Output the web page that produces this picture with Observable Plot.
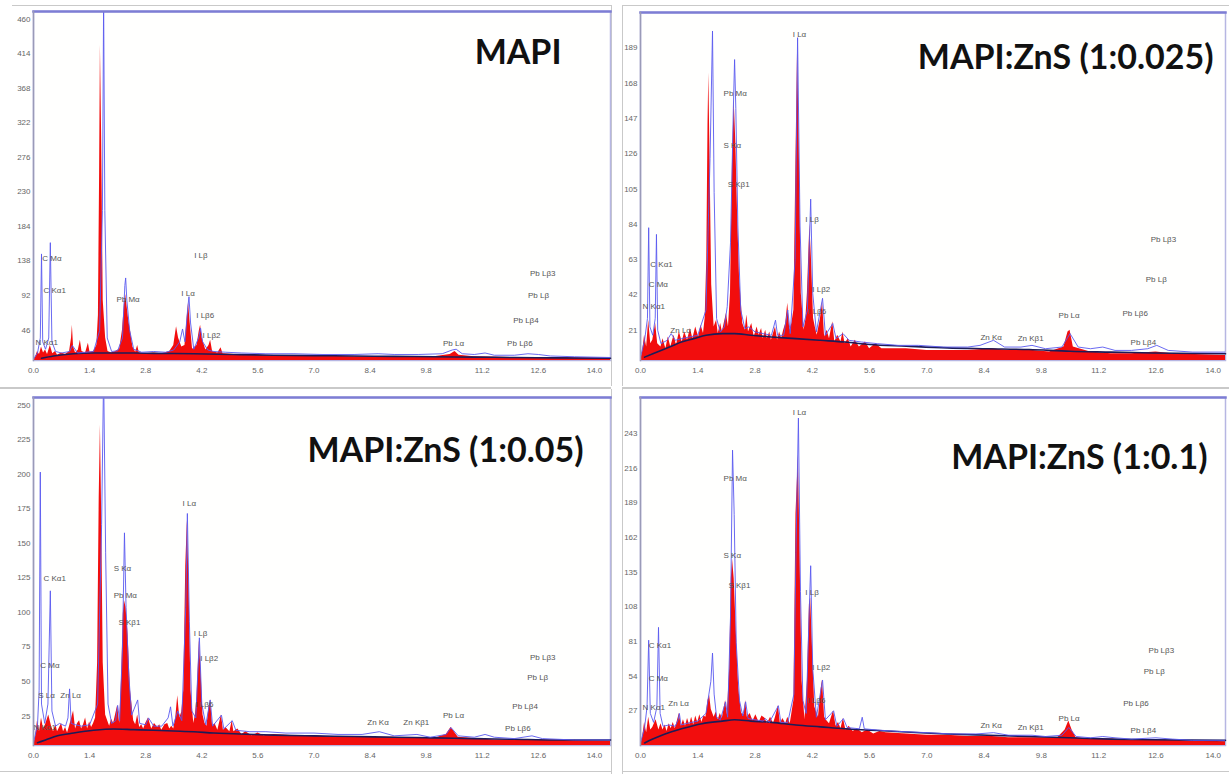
<!DOCTYPE html>
<html>
<head>
<meta charset="utf-8">
<script src="https://cdn.jsdelivr.net/npm/d3@7"></script>
<script src="https://cdn.jsdelivr.net/npm/@observablehq/plot@0.6"></script>
<style>
  html, body { margin: 0; padding: 0; background: #fff; }
  #wrap { position: relative; width: 1229px; height: 774px; overflow: hidden; background: #fff; }
  .pan { position: absolute; }
  .sep { position: absolute; background: #c9c9c9; }
</style>
</head>
<body>
<div id="wrap">
  <div class="sep" style="left:12px;top:5px;width:599px;height:1px"></div>
  <div class="sep" style="left:622px;top:5px;width:607px;height:1px"></div>
  <div class="sep" style="left:611px;top:5px;width:1px;height:381px"></div>
  <div class="sep" style="left:622px;top:5px;width:1px;height:381px"></div>
  <div class="sep" style="left:0px;top:387px;width:611px;height:2px"></div>
  <div class="sep" style="left:622px;top:387px;width:607px;height:2px"></div>
  <div class="sep" style="left:611px;top:389px;width:1px;height:385px"></div>
  <div class="sep" style="left:622px;top:389px;width:1px;height:385px"></div>
  <div class="sep" style="left:0px;top:771px;width:611px;height:1px"></div>
  <div class="sep" style="left:622px;top:771px;width:607px;height:1px"></div>
  <div id="p1" class="pan" style="left:0px;top:0px"></div>
  <div id="p2" class="pan" style="left:620px;top:0px"></div>
  <div id="p3" class="pan" style="left:0px;top:388px"></div>
  <div id="p4" class="pan" style="left:620px;top:388px"></div>
</div>
<script>
// ---------- shared axis ticks (keV) ----------
const xTicks = [0, 1.4, 2.8, 4.2, 5.6, 7.0, 8.4, 9.8, 11.2, 12.6, 14.0];

// ---------- titles ----------
const titles = ["MAPI", "MAPI:ZnS (1:0.025)", "MAPI:ZnS (1:0.05)", "MAPI:ZnS (1:0.1)"];

// ---------- y ticks (counts) ----------
const yTicksMapi = [46, 92, 138, 184, 230, 276, 322, 368, 414, 460];
const yTicks025 = [21, 42, 63, 84, 105, 126, 147, 168, 189];
const yTicks05 = [25, 50, 75, 100, 125, 150, 175, 200, 225, 250];
const yTicks01 = [27, 54, 81, 108, 135, 162, 189, 216, 243];

// ---------- MAPI spectrum [keV, counts] ----------
const mapiRed = [[0,0],[0.05,4],[0.1,12],[0.15,8],[0.2,18],[0.25,10],[0.3,14],[0.35,8],[0.42,20],[0.48,9],[0.55,12],[0.6,7],[0.7,10],[0.8,8],[0.9,12],[0.95,30],[0.97,47],[1.0,18],[1.05,10],[1.12,14],[1.17,27],[1.21,12],[1.3,10],[1.37,23],[1.41,11],[1.5,12],[1.58,20],[1.62,60],[1.65,250],[1.67,420],[1.7,300],[1.74,80],[1.8,30],[1.86,12],[1.95,10],[2.05,12],[2.15,15],[2.22,40],[2.27,75],[2.3,88],[2.34,70],[2.38,52],[2.42,40],[2.48,18],[2.55,11],[2.6,20],[2.64,10],[2.8,9],[3.0,10],[3.2,9],[3.4,12],[3.5,20],[3.57,45],[3.62,30],[3.7,18],[3.78,20],[3.84,60],[3.87,77],[3.91,50],[3.97,15],[4.08,20],[4.14,40],[4.17,47],[4.21,30],[4.3,14],[4.38,20],[4.42,27],[4.47,12],[4.6,10],[4.68,17],[4.73,9],[5.0,8],[5.5,7],[6,6],[7,6],[8,5],[9,5],[10,5],[10.4,8],[10.52,12],[10.62,7],[11,5],[12,4],[13,4],[14.4,3]];
const mapiBlue = [[0,2],[0.1,10],[0.17,30],[0.2,142],[0.23,25],[0.3,15],[0.38,30],[0.42,157],[0.46,25],[0.55,12],[0.7,10],[0.9,12],[0.97,20],[1.1,10],[1.3,11],[1.5,12],[1.65,40],[1.72,200],[1.75,480],[1.78,200],[1.84,30],[1.95,12],[2.1,13],[2.22,30],[2.28,100],[2.3,110],[2.33,80],[2.4,40],[2.5,15],[2.7,11],[3.0,12],[3.3,11],[3.5,14],[3.65,25],[3.72,42],[3.78,25],[3.85,70],[3.88,85],[3.92,50],[4.0,15],[4.12,30],[4.17,43],[4.22,25],[4.35,14],[4.5,12],[4.8,11],[5.2,10],[5.8,9],[6.5,9],[7.2,8],[8,8],[8.6,9],[9,8],[9.6,8],[10.2,9],[10.45,14],[10.55,15],[10.7,9],[11.0,8],[11.27,10],[11.5,7],[12.0,7],[12.34,9],[12.6,8],[12.9,6],[13.5,5],[14.4,4]];
const mapiBg = [[0.2,3],[0.5,6],[1,9],[1.5,10],[2,10],[2.5,10],[3,9.5],[4,9],[5,8],[6,7],[7,6.5],[8,6],[9,5.5],[10,5],[11,4.5],[12,4],[13,3.5],[14.4,3]];
const mapiLabels = [["C Mα",0.22,136],["C Kα1",0.25,93],["N Kα1",0.05,24],["Pb Mα",2.07,81],["I Lβ",4.01,140],["I Lα",3.69,89],["I Lβ6",4.06,60],["I Lβ2",4.22,33],["Pb Lα",10.22,23],["Pb Lβ3",12.39,116],["Pb Lβ",12.34,87],["Pb Lβ4",11.97,53],["Pb Lβ6",11.82,23]];

// ---------- MAPI:ZnS (1:0.025) ----------
const z025Red = [[0,0],[0.05,5],[0.1,15],[0.15,8],[0.2,24],[0.25,10],[0.3,12],[0.37,22],[0.42,10],[0.5,8],[0.55,13],[0.62,7],[0.68,14],[0.74,8],[0.82,15],[0.88,9],[0.95,17],[1.02,11],[1.08,17],[1.15,12],[1.22,19],[1.28,13],[1.35,20],[1.42,14],[1.48,21],[1.54,16],[1.58,25],[1.62,60],[1.65,140],[1.67,171],[1.7,120],[1.74,45],[1.8,20],[1.86,24],[1.9,16],[1.96,22],[2.0,17],[2.1,28],[2.15,20],[2.2,40],[2.25,120],[2.29,155],[2.33,130],[2.37,90],[2.42,50],[2.5,22],[2.56,18],[2.6,27],[2.64,17],[2.72,22],[2.78,14],[2.85,20],[2.9,15],[2.96,19],[3.0,13],[3.06,18],[3.1,13],[3.16,17],[3.2,12],[3.3,20],[3.35,12],[3.4,17],[3.45,13],[3.5,18],[3.55,22],[3.6,34],[3.65,18],[3.7,22],[3.75,30],[3.8,120],[3.84,186],[3.88,130],[3.93,40],[4.0,18],[4.04,24],[4.08,40],[4.14,81],[4.18,60],[4.23,25],[4.28,19],[4.32,15],[4.4,25],[4.45,35],[4.5,14],[4.56,18],[4.62,13],[4.7,23],[4.75,11],[4.82,15],[4.9,11],[4.95,17],[5.0,10],[5.08,13],[5.15,8],[5.25,12],[5.35,8],[5.5,11],[5.6,7],[5.75,10],[5.9,7],[6,7],[6.5,7],[7,6],[7.5,6],[8,6],[8.6,7],[9,6],[9.6,6],[10,5],[10.35,8],[10.45,17],[10.5,18],[10.58,8],[11,5],[11.5,4],[12,4],[12.6,5],[13,4],[14.3,3]];
const z025Blue = [[0,2],[0.1,12],[0.17,25],[0.2,79],[0.23,20],[0.3,15],[0.36,25],[0.39,75],[0.42,18],[0.5,10],[0.65,12],[0.75,16],[0.85,12],[1.0,13],[1.2,14],[1.4,15],[1.6,30],[1.7,120],[1.76,196],[1.8,100],[1.86,25],[1.95,17],[2.05,20],[2.12,32],[2.2,70],[2.27,150],[2.3,179],[2.33,150],[2.38,80],[2.45,30],[2.55,19],[2.65,20],[2.8,17],[3.0,16],[3.2,15],[3.3,24],[3.35,15],[3.5,15],[3.6,30],[3.66,16],[3.78,60],[3.84,192],[3.9,80],[3.97,20],[4.08,30],[4.16,96],[4.21,40],[4.3,17],[4.45,37],[4.52,15],[4.7,22],[4.78,13],[4.95,16],[5.1,12],[5.4,11],[5.8,10],[6.3,9],[6.8,9],[7.4,8],[8.0,8],[8.3,9],[8.63,12],[8.9,8],[9.3,8],[9.57,9],[9.9,7],[10.3,8],[10.5,16],[10.7,8],[11.0,7],[11.3,8],[11.6,6],[12.0,6],[12.4,7],[12.62,9],[12.9,6],[13.5,5],[14.3,5]];
const z025Bg = [[0.1,2],[0.3,4],[0.5,6],[0.8,9],[1.0,11],[1.3,13],[1.6,15],[2.0,16],[2.3,16],[2.7,15],[3.2,14],[3.8,13],[4.4,12],[5.0,11],[5.6,9.5],[6.5,8.5],[7.5,7.5],[8.5,7],[9.5,6.5],[10.5,5.5],[11.5,5],[12.5,4.5],[14.3,4]];
const z025Labels = [["I Lα",3.72,194],["Pb Mα",2.03,159],["S Kα",2.03,128],["S Kβ1",2.13,105],["I Lβ",4.03,84],["I Lβ2",4.2,42],["I Lβ6",4.1,29],["C Kα1",0.24,57],["C Mα",0.2,45],["N Kα1",0.05,32],["Zn Lα",0.73,18],["Zn Kα",8.31,14],["Zn Kβ1",9.22,13],["Pb Lα",10.22,27],["Pb Lβ3",12.47,72],["Pb Lβ",12.35,48],["Pb Lβ6",11.78,28],["Pb Lβ4",11.98,11]];

// ---------- MAPI:ZnS (1:0.05) ----------
const z05Red = [[0,0],[0.05,6],[0.1,18],[0.15,10],[0.2,20],[0.25,12],[0.3,15],[0.38,22],[0.45,14],[0.5,10],[0.56,15],[0.6,10],[0.7,16],[0.75,10],[0.8,13],[0.85,9],[0.9,14],[1.0,25],[1.05,12],[1.1,16],[1.15,18],[1.2,12],[1.25,15],[1.3,20],[1.35,12],[1.4,17],[1.45,13],[1.5,16],[1.55,20],[1.6,60],[1.64,180],[1.67,232],[1.7,170],[1.74,60],[1.8,22],[1.85,18],[1.9,14],[1.95,19],[2.0,16],[2.1,29],[2.15,16],[2.2,50],[2.24,95],[2.27,105],[2.31,100],[2.36,80],[2.42,40],[2.5,18],[2.55,15],[2.6,22],[2.65,13],[2.7,15],[2.75,12],[2.8,16],[2.87,20],[2.95,12],[3.02,16],[3.1,13],[3.15,15],[3.2,11],[3.28,15],[3.35,16],[3.4,12],[3.45,14],[3.5,12],[3.55,20],[3.6,36],[3.65,20],[3.7,24],[3.75,40],[3.8,130],[3.84,163],[3.88,120],[3.93,40],[4.0,16],[4.04,22],[4.08,35],[4.14,76],[4.18,55],[4.23,22],[4.28,16],[4.33,14],[4.38,28],[4.42,33],[4.47,14],[4.53,16],[4.6,11],[4.69,22],[4.74,11],[4.8,13],[4.9,10],[4.96,18],[5.0,10],[5.1,12],[5.2,8],[5.3,10],[5.45,7],[5.6,9],[5.75,7],[6,8],[6.5,7],[7,7],[7.5,6],[8,6],[8.6,6],[9,6],[9.6,5],[10,5],[10.3,8],[10.42,13],[10.5,10],[10.6,6],[11,5],[11.5,4],[12,4],[13,4],[14.4,3]];
const z05Blue = [[0,2],[0.1,15],[0.14,40],[0.17,198],[0.2,30],[0.28,16],[0.36,30],[0.42,112],[0.46,25],[0.55,14],[0.65,16],[0.8,14],[0.86,20],[0.9,41],[0.94,16],[1.05,15],[1.2,14],[1.4,15],[1.6,30],[1.7,160],[1.75,270],[1.8,140],[1.86,30],[1.95,16],[2.05,18],[2.1,29],[2.15,18],[2.22,70],[2.27,154],[2.31,100],[2.38,50],[2.45,22],[2.6,33],[2.65,16],[2.8,15],[2.87,20],[3.0,14],[3.2,14],[3.36,20],[3.42,28],[3.48,14],[3.6,25],[3.7,18],[3.8,100],[3.84,168],[3.89,90],[3.95,25],[4.05,20],[4.14,78],[4.2,30],[4.3,15],[4.41,33],[4.47,14],[4.69,22],[4.75,12],[4.96,18],[5.05,11],[5.4,10],[5.8,10],[6.3,9],[7,9],[7.6,8],[8.2,8],[8.63,10],[9,7],[9.57,8],[9.9,6],[10.3,8],[10.42,13],[10.6,7],[11.0,6],[11.27,8],[11.5,6],[12.0,5],[12.44,7],[12.7,5],[13.5,4],[14.4,4]];
const z05Bg = [[0.1,2],[0.3,4],[0.6,7],[1.0,9],[1.5,11],[2.0,12],[2.5,11.5],[3.0,11],[3.5,10.5],[4.0,10],[4.5,9],[5.0,8.5],[6.0,7.5],[7.0,7],[8.0,6.5],[9.0,6],[10.0,5.5],[11.0,5],[12.0,4.5],[13,4],[14.4,4]];
const z05Labels = [["C Kα1",0.25,121],["C Mα",0.17,58],["S Lα",0.12,36],["Zn Lα",0.67,36],["N Kα1",0.0,13],["S Kα",2.0,128],["Pb Mα",2.0,109],["S Kβ1",2.12,89],["I Lα",3.72,175],["I Lβ",4.0,81],["I Lβ2",4.16,63],["I Lβ6",4.04,30],["Zn Kα",8.33,17],["Zn Kβ1",9.23,17],["Pb Lα",10.22,22],["Pb Lβ3",12.39,64],["Pb Lβ",12.32,49],["Pb Lβ4",11.95,28],["Pb Lβ6",11.77,12]];

// ---------- MAPI:ZnS (1:0.1) ----------
const z01Red = [[0,0],[0.05,6],[0.1,18],[0.15,10],[0.2,22],[0.25,12],[0.3,14],[0.38,20],[0.45,12],[0.5,17],[0.55,12],[0.6,16],[0.65,11],[0.7,17],[0.75,13],[0.8,18],[0.85,13],[0.95,25],[1.0,15],[1.05,20],[1.1,15],[1.15,21],[1.2,16],[1.25,22],[1.3,16],[1.35,23],[1.4,18],[1.45,24],[1.5,18],[1.55,23],[1.6,22],[1.65,35],[1.69,39],[1.73,28],[1.8,22],[1.85,26],[1.9,20],[1.95,25],[2.0,21],[2.05,30],[2.08,35],[2.12,24],[2.18,60],[2.22,130],[2.25,145],[2.29,130],[2.34,90],[2.4,45],[2.47,25],[2.53,24],[2.57,35],[2.61,22],[2.68,25],[2.75,19],[2.82,24],[2.9,18],[2.97,23],[3.05,21],[3.1,17],[3.18,22],[3.25,17],[3.3,22],[3.37,31],[3.42,17],[3.48,21],[3.55,17],[3.6,22],[3.66,17],[3.75,35],[3.8,180],[3.86,226],[3.9,150],[3.95,50],[4.02,20],[4.08,50],[4.13,110],[4.16,115],[4.2,80],[4.26,30],[4.35,22],[4.42,45],[4.45,51],[4.5,22],[4.56,19],[4.62,17],[4.72,27],[4.78,15],[4.84,18],[4.9,13],[4.96,21],[5.02,12],[5.1,15],[5.2,11],[5.3,13],[5.42,10],[5.55,12],[5.7,9],[5.85,11],[6,10],[6.5,9],[7,8],[7.5,8],[8,7],[8.6,7],[9,6],[9.6,6],[10.2,6],[10.38,12],[10.47,19],[10.55,12],[10.65,6],[11,5],[11.5,5],[12,4],[13,4],[14.3,3]];
const z01Blue = [[0,2],[0.1,14],[0.16,30],[0.2,82],[0.24,25],[0.32,18],[0.4,30],[0.44,92],[0.48,25],[0.55,15],[0.7,16],[0.85,15],[0.92,20],[0.95,25],[0.99,16],[1.1,17],[1.25,18],[1.4,19],[1.6,25],[1.72,50],[1.76,72],[1.8,40],[1.86,22],[1.95,20],[2.08,34],[2.13,22],[2.2,100],[2.25,230],[2.29,180],[2.34,80],[2.42,35],[2.5,23],[2.57,34],[2.63,21],[2.8,20],[3.0,19],[3.05,21],[3.15,18],[3.37,31],[3.43,18],[3.6,18],[3.75,40],[3.8,150],[3.86,255],[3.91,120],[3.97,35],[4.05,25],[4.12,100],[4.16,140],[4.21,60],[4.3,22],[4.45,51],[4.52,20],[4.72,27],[4.8,15],[4.96,21],[5.05,14],[5.35,13],[5.42,22],[5.47,13],[5.8,12],[6.3,11],[7,10],[7.6,9],[8.2,9],[8.63,10],[9,8],[9.57,8],[9.9,7],[10.3,8],[10.47,14],[10.65,7],[11.0,6],[11.3,7],[11.6,6],[12.0,5],[12.6,6],[13.0,5],[13.5,4],[14.3,4]];
const z01Bg = [[0.1,2],[0.3,5],[0.6,9],[1.0,13],[1.5,17],[2.0,19],[2.3,20],[2.7,19],[3.2,18],[3.8,16],[4.4,14.5],[5.0,13],[5.6,12],[6.5,10.5],[7.5,9],[8.5,8],[9.5,7],[10.5,6],[11.5,5],[12.5,4.5],[14.3,4]];
const z01Labels = [["I Lα",3.72,259],["Pb Mα",2.03,208],["S Kα",2.03,148],["S Kβ1",2.15,125],["I Lβ",4.03,119],["I Lβ2",4.2,61],["I Lβ6",4.08,35],["C Kα1",0.2,78],["C Mα",0.2,52],["N Kα1",0.05,30],["Zn Lα",0.68,33],["Zn Kα",8.31,16],["Zn Kβ1",9.22,14],["Pb Lα",10.22,21],["Pb Lβ3",12.42,74],["Pb Lβ",12.3,58],["Pb Lβ6",11.8,33],["Pb Lβ4",11.98,12]];

// ---------- panel builder ----------
function panel(o) {
  const X = d => d[0], Y = d => d[1];
  return Plot.plot({
    width: o.w, height: o.h,
    marginLeft: o.ml, marginRight: o.mr, marginTop: o.mt, marginBottom: o.mb,
    style: { background: "transparent", fontFamily: "'Liberation Sans', sans-serif", overflow: "visible" },
    x: { domain: [0, o.xMax] },
    y: { domain: [0, o.yMax] },
    marks: [
      Plot.frame({ fill: "#fffffe", stroke: "#b6b6e2", strokeWidth: 1.5 }),
      Plot.areaY(o.red, { x: X, y: Y, fill: "#f20d0d", clip: true }),
      Plot.lineY(o.bg, { x: X, y: Y, stroke: "#1c1c58", strokeWidth: 1.6, curve: "monotone-x" }),
      Plot.lineY(o.blue, { x: X, y: Y, stroke: "#5a5af0", strokeWidth: 1, strokeOpacity: 0.9, clip: true }),
      Plot.text(o.labels, { x: d => d[1], y: d => d[2], text: d => d[0], textAnchor: "start", fontSize: 8, fill: "#555" }),
      Plot.text([o.title], { text: d => d, frameAnchor: "top-right", dx: o.tdx, dy: o.tdy, fontSize: 34, fontWeight: "bold", fontFamily: "Lato, 'Open Sans', sans-serif", fill: "#111" }),
      Plot.frame({ anchor: "top", stroke: "#7d7dd4", strokeWidth: 2.5 }),
      Plot.frame({ anchor: "left", stroke: "#9a9ab8", strokeWidth: 1.5 }),
      Plot.axisY(o.yTicks, { tickSize: 0, tickPadding: 3, fontSize: 8, fill: "#666", label: null, dy: o.ydy }),
      Plot.axisX(xTicks, { tickSize: 0, tickPadding: 7, fontSize: 8, fill: "#666", label: null, tickFormat: d => d.toFixed(1) })
    ]
  });
}

document.getElementById("p1").append(panel({
  w: 614, h: 387, ml: 33, mr: 4, mt: 11, mb: 27, xMax: 14.4, yMax: 465,
  red: mapiRed, blue: mapiBlue, bg: mapiBg, labels: mapiLabels, yTicks: yTicksMapi,
  title: titles[0], tdx: -49, tdy: 28, ydy: 4
}));
document.getElementById("p2").append(panel({
  w: 609, h: 387, ml: 20, mr: 4, mt: 12, mb: 27, xMax: 14.3, yMax: 207,
  red: z025Red, blue: z025Blue, bg: z025Bg, labels: z025Labels, yTicks: yTicks025,
  title: titles[1], tdx: -12, tdy: 32, ydy: 5
}));
document.getElementById("p3").append(panel({
  w: 614, h: 386, ml: 33, mr: 4, mt: 9, mb: 29, xMax: 14.4, yMax: 252,
  red: z05Red, blue: z05Blue, bg: z05Bg, labels: z05Labels, yTicks: yTicks05,
  title: titles[2], tdx: -27, tdy: 40, ydy: 5
}));
document.getElementById("p4").append(panel({
  w: 609, h: 386, ml: 20, mr: 4, mt: 9, mb: 29, xMax: 14.3, yMax: 271,
  red: z01Red, blue: z01Blue, bg: z01Bg, labels: z01Labels, yTicks: yTicks01,
  title: titles[3], tdx: -18, tdy: 47, ydy: 0
}));
</script>
</body>
</html>
